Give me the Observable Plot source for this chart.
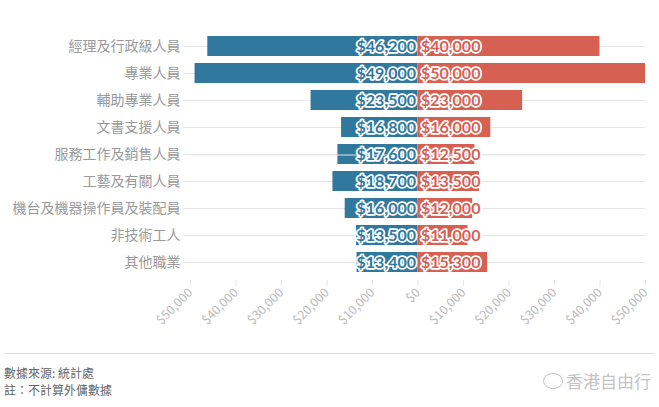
<!DOCTYPE html>
<html>
<head>
<meta charset="utf-8">
<script src="https://cdn.jsdelivr.net/npm/d3@7"></script>
<script src="https://cdn.jsdelivr.net/npm/@observablehq/plot@0.6"></script>
<style>
  body { margin: 0; background: #fff; font-family: "Noto Sans CJK TC", "Noto Sans", sans-serif; }
  #footer { position: relative; margin: 8px 4px 0 4px; border-top: 1px solid #ddd; padding-top: 10px; height: 44px; }
  #footer .note { font-size: 12px; color: #666; line-height: 17px; }
  #footer .wm { position: absolute; right: 4px; top: 14px; font-size: 17px; color: #c4c4c4; }
  #footer .wm span { display: inline-block; width: 18px; height: 14px; border: 1.5px solid #c8c8c8; border-radius: 50%; vertical-align: -1px; margin-right: 3px; }
</style>
</head>
<body>
<div id="chart"></div>
<div id="footer">
  <div class="note">數據來源: 統計處</div>
  <div class="note">註：不計算外傭數據</div>
  <div class="wm"><span></span>香港自由行</div>
</div>
<script>
const categories = ["經理及行政級人員", "專業人員", "輔助專業人員", "文書支援人員", "服務工作及銷售人員", "工藝及有關人員", "機台及機器操作員及裝配員", "非技術工人", "其他職業"];
const blueValues = [46200, 49000, 23500, 16800, 17600, 18700, 16000, 13500, 13400];
const redValues = [40000, 50000, 23000, 16000, 12500, 13500, 12000, 11000, 15300];
const xTicks = [-50000, -40000, -30000, -20000, -10000, 0, 10000, 20000, 30000, 40000, 50000];

const BLUE = "#31789f";
const RED = "#d66152";
const fmt = d3.format(",");

const left = categories.map((c, i) => ({cat: c, v: -blueValues[i], label: "$" + fmt(blueValues[i])}));
const right = categories.map((c, i) => ({cat: c, v: redValues[i], label: "$" + fmt(redValues[i])}));

const chart = Plot.plot({
  width: 659,
  height: 345,
  marginTop: 29,
  marginBottom: 65,
  marginLeft: 190,
  marginRight: 14,
  style: {fontFamily: "'Noto Sans CJK TC', sans-serif", background: "#fff"},
  x: {domain: [-50000, 50000]},
  y: {domain: categories, paddingInner: 0.25, paddingOuter: 0.125},
  marks: [
    Plot.gridY({stroke: "#e6e6e6", strokeOpacity: 1}),
    Plot.axisY({tickSize: 7, tickPadding: 3, fontSize: 14, color: "#9a9a9a", stroke: "#e6e6e6", label: null}),
    Plot.barX(left, {x: "v", y: "cat", fill: BLUE}),
    Plot.barX(right, {x: "v", y: "cat", fill: RED}),
    Plot.ruleY([0], {x1: -50000, x2: 50000, y: null, frameAnchor: "bottom", stroke: "#e6e6e6"}),
    Plot.axisX({ticks: xTicks, tickSize: 6, tickRotate: -45, tickPadding: 4, fontSize: 12.5, color: "#bdbdbd", stroke: "#e6e6e6",
      tickFormat: d => "$" + fmt(Math.abs(d)), label: null}),
    Plot.text(left, {x: 0, y: "cat", text: "label", dx: -2, textAnchor: "end", fill: BLUE, stroke: "white", strokeWidth: 3.5,
      fontSize: 16, fontWeight: "bold", fontFamily: "Lato"}),
    Plot.text(right, {x: 0, y: "cat", text: "label", dx: 3, textAnchor: "start", fill: RED, stroke: "white", strokeWidth: 3.5,
      fontSize: 16, fontWeight: "bold", fontFamily: "Lato"})
  ]
});
document.getElementById("chart").appendChild(chart);
</script>
</body>
</html>
